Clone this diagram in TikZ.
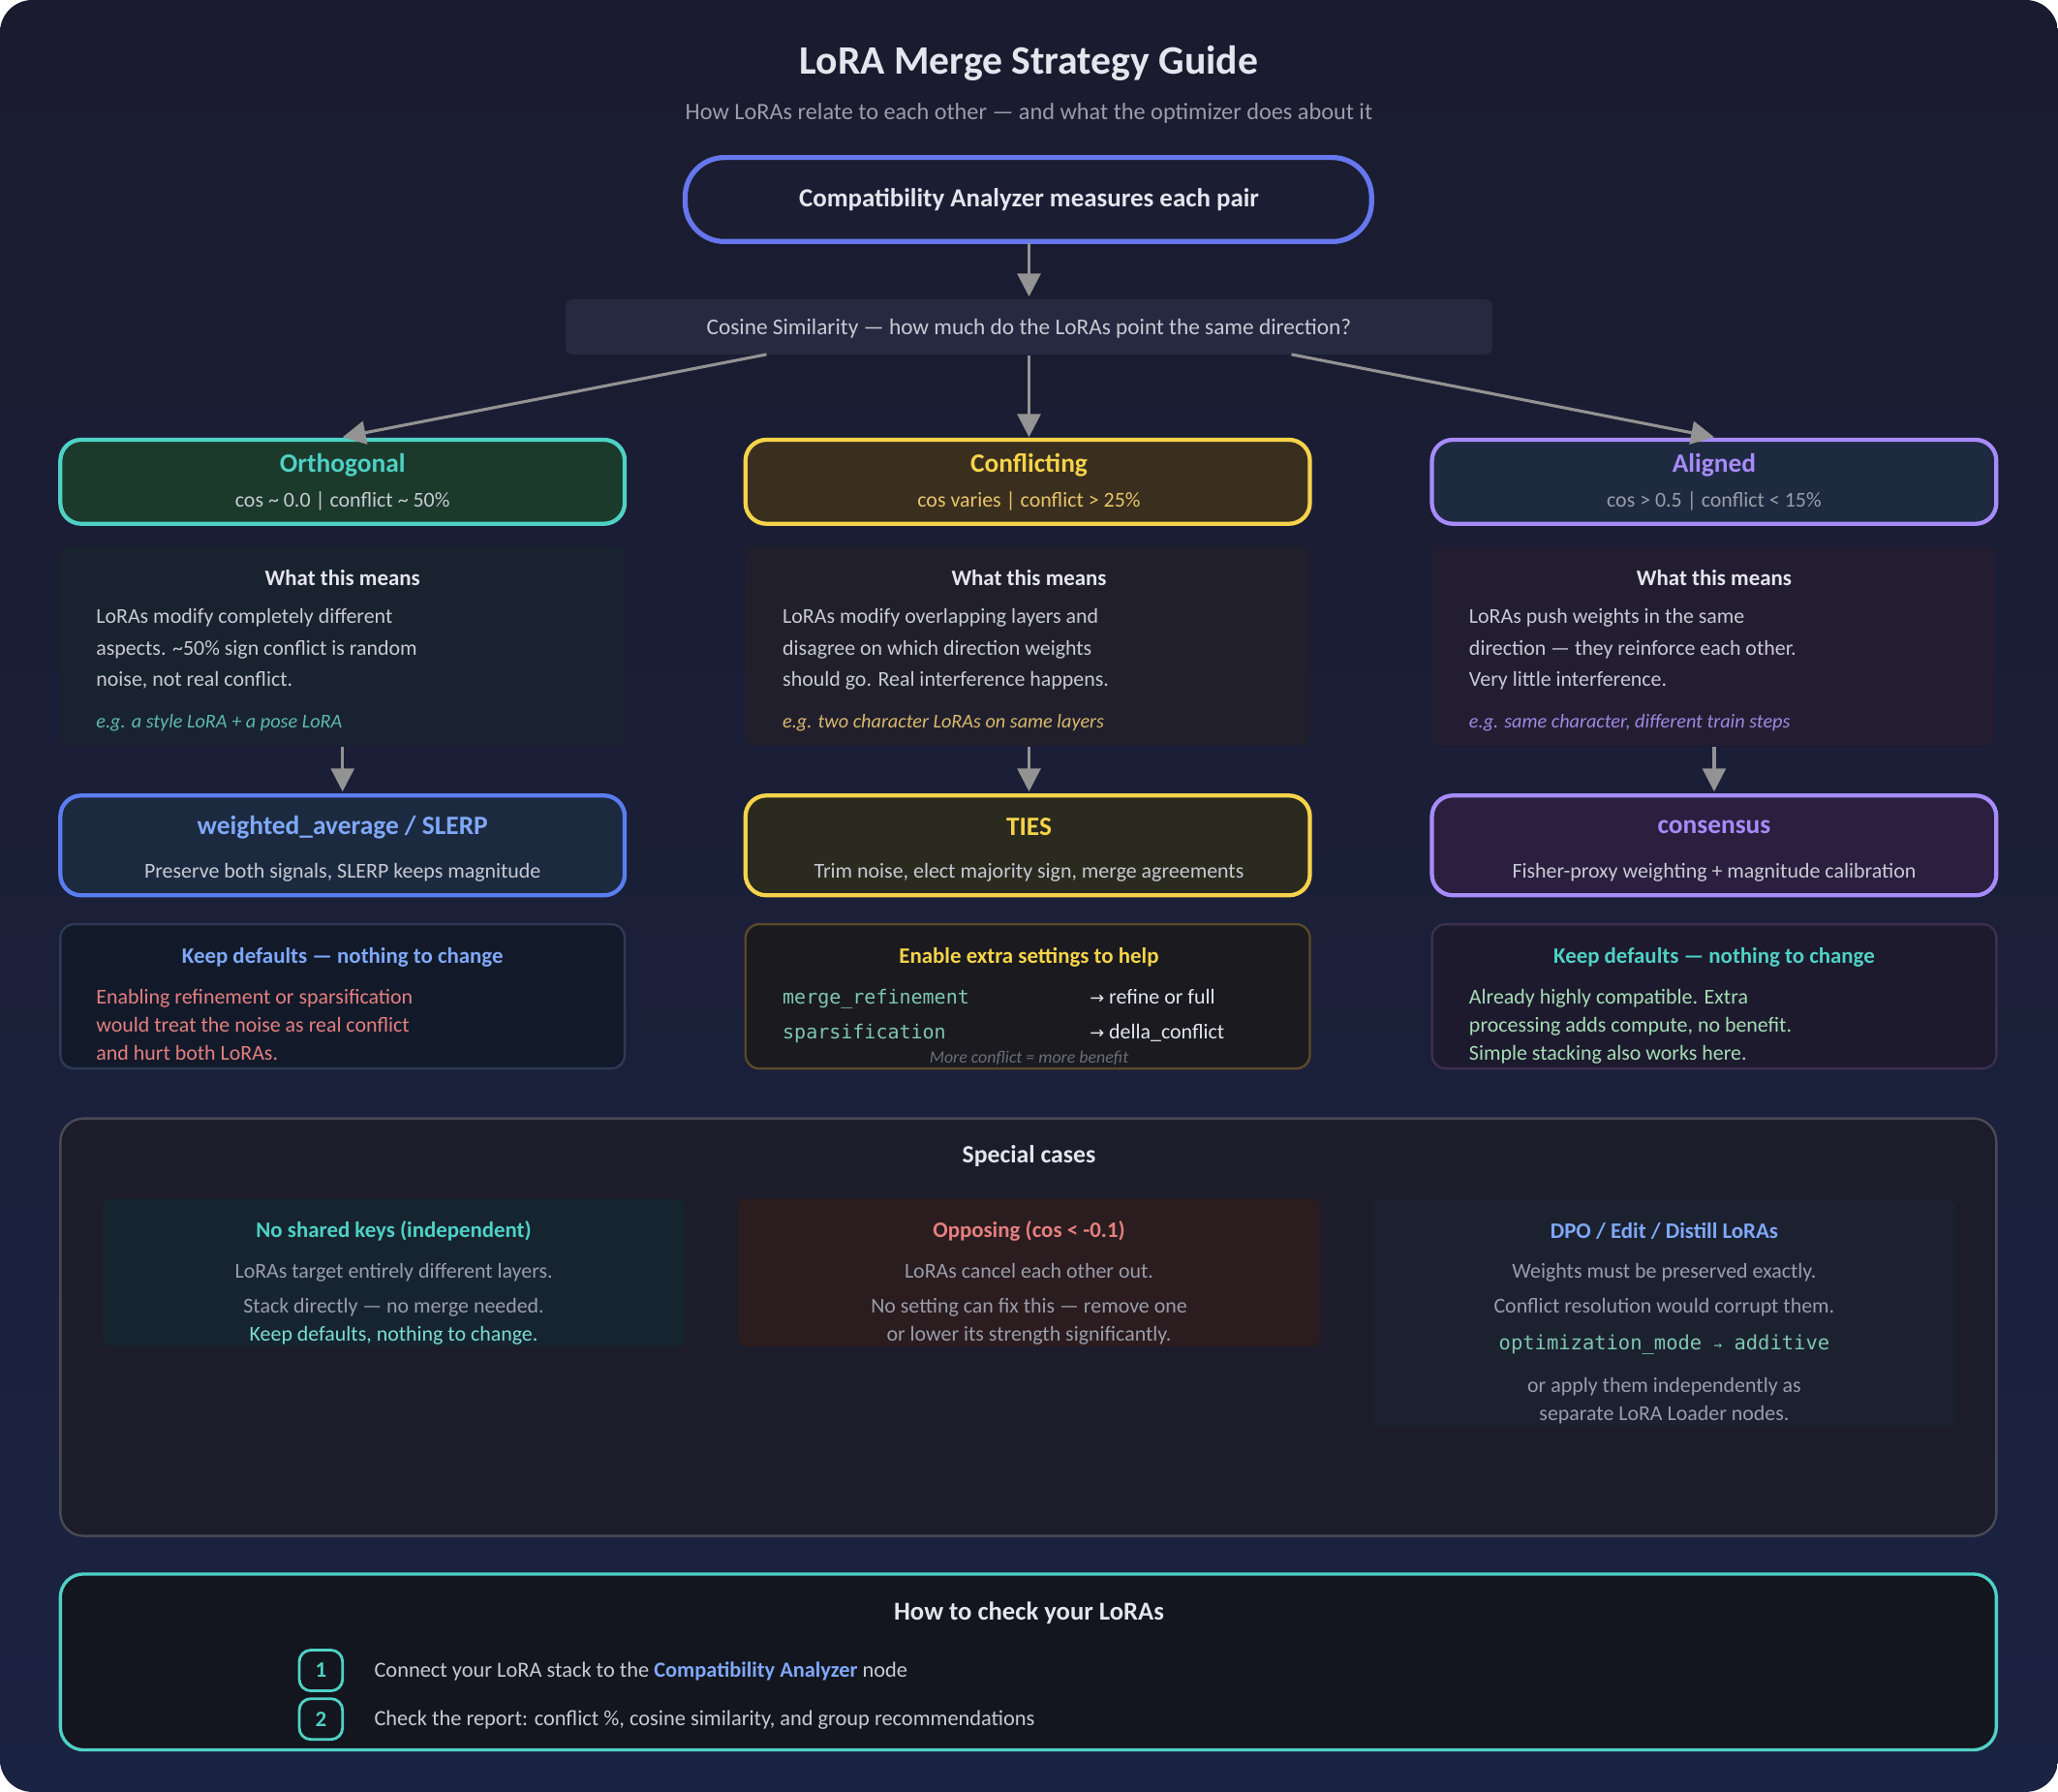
\documentclass[tikz,border=0pt]{standalone}
\usepackage{fontspec}
\setmainfont{Carlito}
\setmonofont{DejaVu Sans Mono}
\newfontfamily\djv{DejaVu Sans}
\usetikzlibrary{arrows.meta}
\definecolor{bgA}{HTML}{1A1B2E}\definecolor{bgB}{HTML}{1B2342}
\definecolor{tx}{HTML}{C8CAD4}\definecolor{mut}{HTML}{9A9DAA}\definecolor{wt}{HTML}{E4E6EE}
\definecolor{teal}{HTML}{4FD1C5}\definecolor{yel}{HTML}{F6D34A}\definecolor{pur}{HTML}{A78BFA}
\definecolor{blu}{HTML}{7FA8F8}\definecolor{redt}{HTML}{E57F7F}\definecolor{bluB}{HTML}{5A7EF0}
\definecolor{topB}{HTML}{6677EE}\definecolor{topF}{HTML}{1B1E33}\definecolor{cosF}{HTML}{262A40}
\definecolor{oF}{HTML}{1B3A2C}\definecolor{cF}{HTML}{3A2F1F}\definecolor{aF}{HTML}{1E2A40}
\definecolor{oE}{HTML}{19232F}\definecolor{cE}{HTML}{211F2C}\definecolor{aE}{HTML}{231D32}
\definecolor{wF}{HTML}{1C2A40}\definecolor{tF}{HTML}{2A2A1F}\definecolor{sF}{HTML}{2A1F3F}
\definecolor{kF}{HTML}{121A2A}\definecolor{kB}{HTML}{2E3A55}\definecolor{eF}{HTML}{1A1A1F}\definecolor{eB}{HTML}{5A4A2A}
\definecolor{k3F}{HTML}{1D1A2E}\definecolor{k3B}{HTML}{3A3050}
\definecolor{monoT}{HTML}{7FC8B0}\definecolor{grn}{HTML}{A6DDB5}\definecolor{subY}{HTML}{E8C46A}
\definecolor{spF}{HTML}{1C1C2A}\definecolor{spB}{HTML}{4A4A55}
\definecolor{s1}{HTML}{162430}\definecolor{s2}{HTML}{2A1C1F}\definecolor{s3}{HTML}{1C2130}
\definecolor{btF}{HTML}{13151F}
\newcommand\fz[1]{\fontsize{#1}{#1}\selectfont}
\tikzset{
 arr/.style={draw=gray!85,line width=1.3pt,-{Triangle[length=10pt,width=10pt]}},
 cat/.style={rounded corners=9pt,line width=1.8pt},
 b/.style={text=tx,font=\fz{9.2},align=left,anchor=north west,inner sep=0pt},
 c/.style={text=mut,font=\fz{9.2},align=center,inner sep=0pt},
 ttl/.style={font=\bfseries\fz{11.5}},
 h/.style={font=\bfseries\fz{9.6}},
}
\begin{document}
\begin{tikzpicture}[x=0.02cm,y=-0.02cm]
\useasboundingbox (0,0) rectangle (1568,1365);
\shade[top color=bgA,bottom color=bgB,rounded corners=14pt] (0,0) rectangle (1568,1365);
\node[text=wt,font=\bfseries\fz{17.5}] (title) at (784,48) {LoRA Merge Strategy Guide};
\node[text=mut,font=\fz{10.2}] (sub) at (784,86) {How LoRAs relate to each other — and what the optimizer does about it};
% top
\draw[draw=topB,line width=2.2pt,fill=topF,rounded corners=17pt] (522,120) rectangle (1045,184);
\node[text=wt,font=\bfseries\fz{11.3}] (ana) at (784,152) {Compatibility Analyzer measures each pair};
\coordinate (anaS) at (784,185);
\fill[cosF,rounded corners=3pt] (431,228) rectangle (1137,270);
\node[text=tx,font=\fz{9.8}] (cos) at (784,250) {Cosine Similarity — how much do the LoRAs point the same direction?};
\coordinate (cosT) at (784,226);
\draw[arr] (anaS) -- (cosT);
\coordinate (cL) at (584,270);\coordinate (cM) at (784,271);\coordinate (cR) at (984,270);
% categories
\draw[cat,draw=teal,fill=oF] (46,335) rectangle (476,399);
\draw[cat,draw=yel,fill=cF] (568,335) rectangle (998,399);
\draw[cat,draw=pur,fill=aF] (1091,335) rectangle (1521,399);
\coordinate (oT) at (261,333);\coordinate (cT) at (784,333);\coordinate (aT) at (1306,333);
\draw[arr] (cL) -- (oT); \draw[arr] (cM) -- (cT); \draw[arr] (cR) -- (aT);
\node[text=teal,ttl] (ot) at (261,354) {Orthogonal};
\node[text=tx,font=\fz{9.2}] (os) at (261,382) {cos \char`~\ 0.0 | conflict \char`~\ 50\%};
\node[text=yel,ttl] (ct) at (784,354) {Conflicting};
\node[text=subY,font=\fz{9.2}] (cs) at (784,382) {cos varies | conflict > 25\%};
\node[text=pur,ttl] (at) at (1306,354) {Aligned};
\node[text=mut,font=\fz{9.2}] (as) at (1306,382) {cos > 0.5 | conflict < 15\%};
% explanations
\fill[oE,rounded corners=4pt] (46,416) rectangle (476,568);
\fill[cE,rounded corners=4pt] (568,416) rectangle (998,568);
\fill[aE,rounded corners=4pt] (1091,416) rectangle (1521,568);
\foreach \x/\n in {261/o,784/c,1306/a}{\node[text=wt,h] (\n h) at (\x,440) {What this means};}
\node[b] (ob) at (73,463) {LoRAs modify completely different\\[4.6pt]aspects. \char`~50\% sign conflict is random\\[4.6pt]noise, not real conflict.};
\node[b] (cb) at (596,463) {LoRAs modify overlapping layers and\\[4.6pt]disagree on which direction weights\\[4.6pt]should go. Real interference happens.};
\node[b] (ab) at (1119,463) {LoRAs push weights in the same\\[4.6pt]direction — they reinforce each other.\\[4.6pt]Very little interference.};
\node[b,text=teal!70!gray,font=\itshape\fz{8.5}] (oe) at (73,544) {e.g. a style LoRA + a pose LoRA};
\node[b,text=subY!85!gray,font=\itshape\fz{8.5}] (ce) at (596,544) {e.g. two character LoRAs on same layers};
\node[b,text=pur!80!gray,font=\itshape\fz{8.5}] (ae) at (1119,544) {e.g. same character, different train steps};
\coordinate (oB) at (261,569);\coordinate (cB) at (784,569);\coordinate (aB) at (1306,569);
\coordinate (oM) at (261,603);\coordinate (cMt) at (784,603);\coordinate (aM) at (1306,603);
\draw[arr] (oB) -- (oM); \draw[arr] (cB) -- (cMt); \draw[arr] (aB) -- (aM);
% methods
\draw[cat,draw=bluB,fill=wF] (46,606) rectangle (476,682);
\draw[cat,draw=yel,fill=tF] (568,606) rectangle (998,682);
\draw[cat,draw=pur,fill=sF] (1091,606) rectangle (1521,682);
\node[text=blu,ttl] (wm) at (261,630) {weighted\_average / SLERP};
\node[text=tx,font=\fz{9.2}] (ws) at (261,665) {Preserve both signals, SLERP keeps magnitude};
\node[text=yel,ttl] (tm) at (784,630) {TIES};
\node[text=tx,font=\fz{9.2}] (ts) at (784,665) {Trim noise, elect majority sign, merge agreements};
\node[text=pur,ttl] (sm) at (1306,630) {consensus};
\node[text=tx,font=\fz{9.2}] (ss) at (1306,665) {Fisher-proxy weighting + magnitude calibration};
% settings
\draw[draw=kB,fill=kF,rounded corners=6pt,line width=1pt] (46,704) rectangle (476,814);
\draw[draw=eB,fill=eF,rounded corners=6pt,line width=1pt] (568,704) rectangle (998,814);
\draw[draw=k3B,fill=k3F,rounded corners=6pt,line width=1pt] (1091,704) rectangle (1521,814);
\node[text=blu,h] (k1) at (261,729) {Keep defaults — nothing to change};
\node[b,text=redt] (k1b) at (73,753) {Enabling refinement or sparsification\\[3pt]would treat the noise as real conflict\\[3pt]and hurt both LoRAs.};
\node[text=yel,h] (k2) at (784,729) {Enable extra settings to help};
\node[b,text=monoT,font=\ttfamily\fz{8.4}] (m1) at (596,753) {merge\_refinement};
\node[b,text=monoT,font=\ttfamily\fz{8.4}] (m2) at (596,780) {sparsification};
\node[b,text=wt] (v1) at (830,753) {{\djv\fz{7.5}→} refine or full};
\node[b,text=wt] (v2) at (830,780) {{\djv\fz{7.5}→} della\_conflict};
\node[text=mut!70!black,font=\itshape\fz{7.5}] (more) at (784,806) {More conflict = more benefit};
\node[text=teal,h] (k3) at (1306,729) {Keep defaults — nothing to change};
\node[b,text=grn] (k3b) at (1119,753) {Already highly compatible. Extra\\[3pt]processing adds compute, no benefit.\\[3pt]Simple stacking also works here.};
% special cases
\draw[draw=spB,fill=spF,rounded corners=10pt,line width=1pt] (46,852) rectangle (1521,1170);
\node[text=wt,font=\bfseries\fz{10.8}] (sc) at (784,881) {Special cases};
\fill[s1,rounded corners=4pt] (78,913) rectangle (522,1026);
\fill[s2,rounded corners=4pt] (562,913) rectangle (1006,1026);
\fill[s3,rounded corners=4pt] (1046,913) rectangle (1490,1087);
\node[text=teal,h] (s1t) at (300,938) {No shared keys (independent)};
\node[c,anchor=north] (s1b) at (300,962) {LoRAs target entirely different layers.\\[6pt]Stack directly — no merge needed.\\[3pt]\textcolor{teal!75!white}{Keep defaults, nothing to change.}};
\node[text=redt,h] (s2t) at (784,938) {Opposing (cos < -0.1)};
\node[c,anchor=north] (s2b) at (784,962) {LoRAs cancel each other out.\\[6pt]No setting can fix this — remove one\\[3pt]or lower its strength significantly.};
\node[text=blu,h] (s3t) at (1268,938) {DPO / Edit / Distill LoRAs};
\node[c,anchor=north] (s3b) at (1268,962) {Weights must be preserved exactly.\\[6pt]Conflict resolution would corrupt them.};
\node[text=monoT,font=\ttfamily\fz{8.6}] (s3m) at (1268,1024) {optimization\_mode {\fz{6}→} additive};
\node[c,anchor=north] (s3c) at (1268,1049) {or apply them independently as\\[3pt]separate LoRA Loader nodes.};
% bottom
\draw[draw=teal,fill=btF,rounded corners=10pt,line width=1.4pt] (46,1199) rectangle (1521,1333);
\node[text=wt,font=\bfseries\fz{11.2}] (hw) at (784,1229) {How to check your LoRAs};
\draw[draw=teal,rounded corners=5pt,line width=1.2pt] (228,1257) rectangle (261,1288);
\node[text=teal,h] (n1) at (244.5,1272.5) {1};
\draw[draw=teal,rounded corners=5pt,line width=1.2pt] (228,1294) rectangle (261,1325);
\node[text=teal,h] (n2) at (244.5,1309.5) {2};
\node[text=tx,font=\fz{9.4},anchor=west] (l1) at (279,1273) {Connect your LoRA stack to the \textcolor{blu}{\bfseries Compatibility Analyzer} node};
\node[text=tx,font=\fz{9.4},anchor=west] (l2) at (279,1310) {Check the report: conflict \%, cosine similarity, and group recommendations};
\end{tikzpicture}
\end{document}
